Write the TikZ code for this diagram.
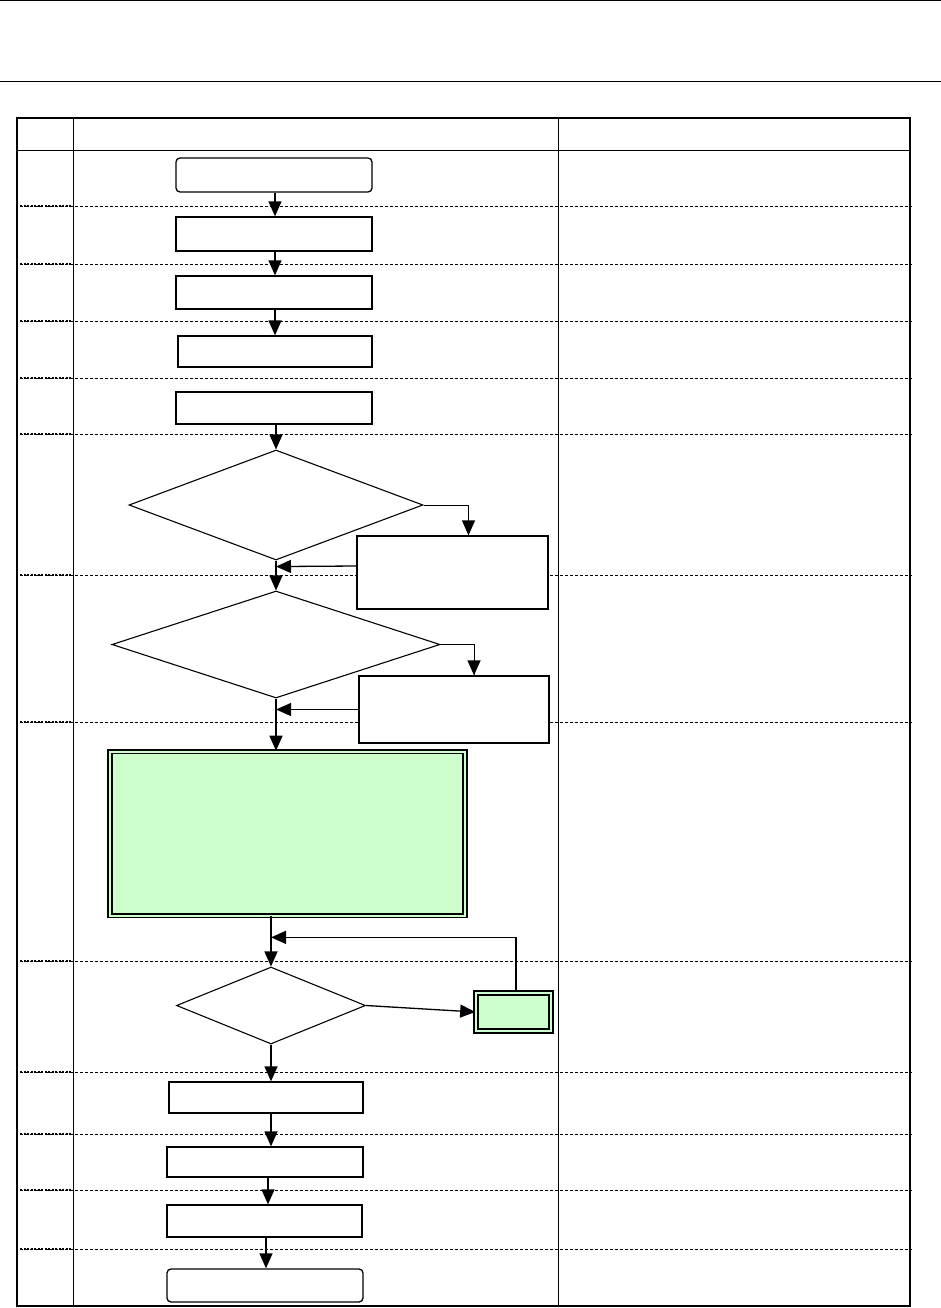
\documentclass[tikz,border=0pt]{standalone}
\usetikzlibrary{arrows.meta,shapes.geometric,calc}
\definecolor{lgreen}{HTML}{CCFFCC}
\begin{document}
\begin{tikzpicture}[x=1pt,y=-1pt,
  box/.style={draw, line width=1.3pt, inner sep=0pt, fill=white},
  rbox/.style={box, rounded corners=4pt},
  dia/.style={draw, diamond, line width=1.1pt, inner sep=0pt, fill=white},
  gbox/.style={draw, line width=1.6pt, double=lgreen, double distance=2pt, fill=lgreen, inner sep=0pt},
  arr/.style={-{Triangle[length=15pt,width=13pt]}, line width=1.3pt},
  sep/.style={dash pattern=on 3pt off 2pt, line width=0.9pt},
  thin/.style={line width=0.6pt}]
\useasboundingbox (0,0) rectangle (941,1308);
% page header lines
\draw[line width=1pt] (0,1) -- (941,1);
\draw[line width=1pt] (0,82) -- (941,82);
% table
\draw[thin] (17,150) -- (910,150);
\draw[thin] (73,118) -- (73,1306);
\draw[thin] (558,118) -- (558,1306);
\foreach \yy in {206,264,321,378,434,575,722,961,1072,1134,1190,1249}{
  \draw[sep] (20,\yy) -- (912,\yy);
  \draw[dash pattern=on 2pt off 1.5pt, line width=1.4pt] (20,\yy) -- (73,\yy);}
\draw[line width=1.3pt] (17,118) rectangle (910,1306);
% nodes
\node[rbox, minimum width=196pt, minimum height=34pt] (b1) at (274,175) {};
\node[box, minimum width=196pt, minimum height=34pt] (b2) at (274,234) {};
\node[box, minimum width=196pt, minimum height=33pt] (b3) at (274,292.5) {};
\node[box, minimum width=194pt, minimum height=31pt] (b4) at (275,351.5) {};
\node[box, minimum width=196pt, minimum height=32pt] (b5) at (274,408) {};
\node[dia, minimum width=294pt, minimum height=110pt] (d1) at (276,505) {};
\node[box, minimum width=191pt, minimum height=73pt] (s1) at (452.5,572.5) {};
\node[dia, minimum width=328pt, minimum height=107pt] (d2) at (276,644.5) {};
\node[box, minimum width=190pt, minimum height=67pt] (s2) at (454,709.5) {};
\node[gbox, minimum width=355pt, minimum height=164pt] (g) at (287.5,833.5) {};
\node[dia, minimum width=189pt, minimum height=77pt] (d3) at (271,1005.5) {};
\node[gbox, minimum width=75pt, minimum height=38pt] (sg) at (513.5,1012) {};
\node[box, minimum width=194pt, minimum height=31pt] (ba) at (266,1097.5) {};
\node[box, minimum width=196pt, minimum height=30pt] (bb) at (265,1162) {};
\node[box, minimum width=195pt, minimum height=32pt] (bc) at (264.5,1221) {};
\node[rbox, minimum width=196pt, minimum height=33pt] (bd) at (265,1285.5) {};
% connectors
\draw[arr] ([xshift=1pt]b1.south) -- ([xshift=1pt]b2.north);
\draw[arr] ([xshift=1pt]b2.south) -- ([xshift=1pt]b3.north);
\draw[arr] ([xshift=1pt]b3.south) -- (b4.north);
\draw[arr] (d1.north |- b5.south) -- (d1.north);
\draw[line width=1pt] (d1.east) -| ($(s1.north)+(16,0)$);
\draw[arr] ($(s1.north)+(16,-2)$) -- ($(s1.north)+(16,0)$);
\draw[arr] ($(s1.west)+(0,-6.5)$) -- ($(d1.south)+(0,6)$);
\draw[arr] (d1.south) -- (d2.north);
\draw[line width=1pt] (d2.east) -| ($(s2.north)+(20,0)$);
\draw[arr] ($(s2.north)+(20,-2)$) -- ($(s2.north)+(20,0)$);
\draw[arr] (s2.west) -- (d2.south |- s2.west);
\draw[arr] (d2.south) -- (d2.south |- g.north);
\draw[arr] (g.south -| d3.north) -- (d3.north);
\draw[arr] ($(sg.north)+(2.5,0)$) |- ($(g.south -| d3.north)!0.42!(d3.north)$);
\draw[arr] (d3.east) -- (sg.west);
\draw[arr] (d3.south) -- (d3.south |- ba.north);
\draw[arr] ([xshift=5pt]ba.south) -- ([xshift=6pt]bb.north);
\draw[arr] ([xshift=3pt]bb.south) -- ([xshift=3.5pt]bc.north);
\draw[arr] ([xshift=1.5pt]bc.south) -- ([xshift=1pt]bd.north);
\end{tikzpicture}
\end{document}
